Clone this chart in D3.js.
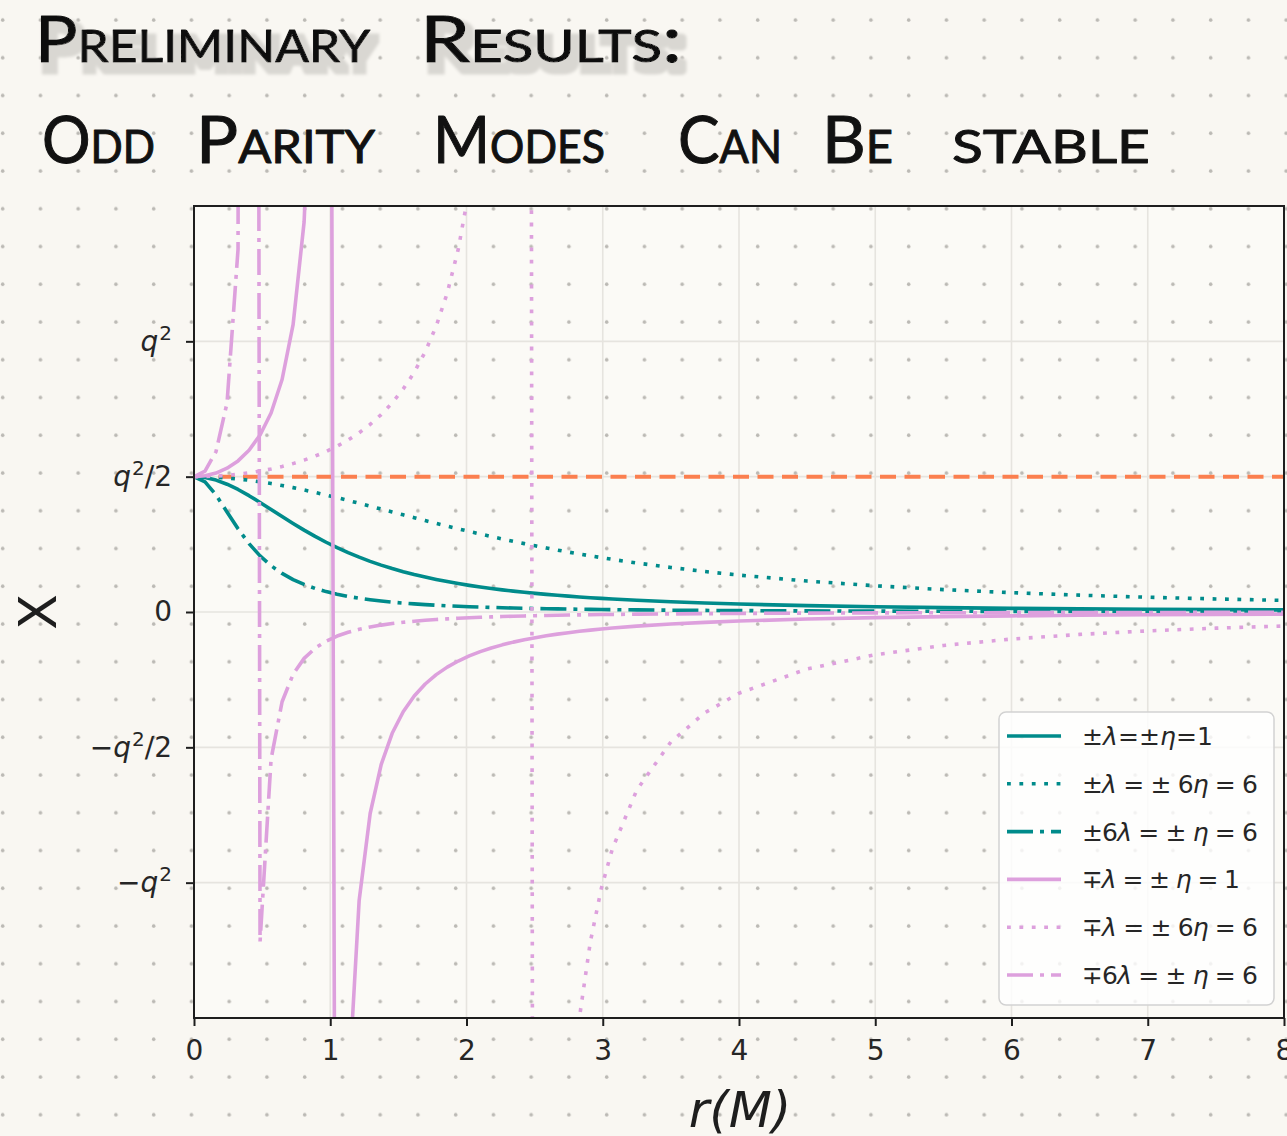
<!DOCTYPE html>
<html><head><meta charset="utf-8">
<script src="https://cdn.jsdelivr.net/npm/d3@7/dist/d3.min.js"></script>
<style>
html,body{margin:0;padding:0;background:#f9f7f2;}
svg{display:block;}
</style></head>
<body>
<svg id="chart" width="1287" height="1136"></svg>
<script>
// ---------------- DATA ----------------
const rValues = [0, 0.0808, 0.1616, 0.2424, 0.3232, 0.4040, 0.4848, 0.5657, 0.6465, 0.7273, 0.8081, 0.8889, 0.9697, 1.0505, 1.1313, 1.2121, 1.2929, 1.3737, 1.4545, 1.5354, 1.6162, 1.6970, 1.7778, 1.8586, 1.9394, 2.0202, 2.1010, 2.1818, 2.2626, 2.3434, 2.4242, 2.5051, 2.5859, 2.6667, 2.7475, 2.8283, 2.9091, 2.9899, 3.0707, 3.25, 3.5, 3.75, 4, 4.5, 5, 5.5, 6, 6.5, 7, 7.5, 8];

const tealSolid = [0.5, 0.4968, 0.4873, 0.4722, 0.4527, 0.4298, 0.4048, 0.3788, 0.3526, 0.3270, 0.3025, 0.2793, 0.2577, 0.2377, 0.2193, 0.2025, 0.1872, 0.1732, 0.1605, 0.1489, 0.1384, 0.1289, 0.1202, 0.1123, 0.1050, 0.0984, 0.0923, 0.0868, 0.0817, 0.0770, 0.0727, 0.0687, 0.0650, 0.0616, 0.0585, 0.0556, 0.0528, 0.0503, 0.0479, 0.0432, 0.0377, 0.0332, 0.0294, 0.0235, 0.0192, 0.0160, 0.0135, 0.0116, 0.0100, 0.0087, 0.0077];
const tealDotted = [0.5, 0.4995, 0.4978, 0.4951, 0.4914, 0.4868, 0.4811, 0.4747, 0.4674, 0.4595, 0.4509, 0.4418, 0.4323, 0.4223, 0.4121, 0.4017, 0.3911, 0.3804, 0.3696, 0.3590, 0.3483, 0.3378, 0.3275, 0.3173, 0.3073, 0.2976, 0.2881, 0.2788, 0.2698, 0.2611, 0.2526, 0.2444, 0.2365, 0.2288, 0.2214, 0.2143, 0.2074, 0.2008, 0.1944, 0.1811, 0.1644, 0.1495, 0.1364, 0.1143, 0.0968, 0.0828, 0.0714, 0.0622, 0.0545, 0.0482, 0.0429];
const tealDashDot = [0.5, 0.4811, 0.4323, 0.3696, 0.3073, 0.2526, 0.2074, 0.1712, 0.1426, 0.1198, 0.1017, 0.0871, 0.0753, 0.0656, 0.0576, 0.0509, 0.0453, 0.0406, 0.0365, 0.0330, 0.0300, 0.0274, 0.0250, 0.0230, 0.0212, 0.0196, 0.0182, 0.0169, 0.0158, 0.0147, 0.0138, 0.0129, 0.0122, 0.0115, 0.0108, 0.0102, 0.0097, 0.0092, 0.0087, 0.0078, 0.0067, 0.0059, 0.0052, 0.0041, 0.0033, 0.0027, 0.0023, 0.0020, 0.0017, 0.0015, 0.0013];
const pinkSolid = [0.5, 0.5033, 0.5134, 0.5312, 0.5583, 0.5976, 0.6537, 0.7353, 0.8590, 1.0614, 1.4409, 2.3823, 8.3766, -4.8281, -1.7865, -1.0656, -0.7444, -0.5636, -0.4481, -0.3684, -0.3102, -0.2660, -0.2314, -0.2037, -0.1811, -0.1623, -0.1464, -0.1330, -0.1214, -0.1113, -0.1025, -0.0948, -0.0879, -0.0818, -0.0764, -0.0714, -0.0670, -0.0630, -0.0593, -0.0523, -0.0444, -0.0383, -0.0333, -0.0260, -0.0208, -0.0171, -0.0143, -0.0121, -0.0104, -0.0090, -0.0079];
const pinkDotted = [0.5, 0.5005, 0.5022, 0.5049, 0.5089, 0.5140, 0.5204, 0.5282, 0.5374, 0.5483, 0.5611, 0.5758, 0.5929, 0.6127, 0.6356, 0.6621, 0.6931, 0.7294, 0.7723, 0.8236, 0.8855, 0.9614, 1.0565, 1.1785, 1.3400, 1.5635, 1.8919, 2.4200, 3.4072, 5.9018, 24.378, -10.898, -4.3691, -2.7000, -1.9372, -1.5006, -1.2181, -1.0206, -0.8748, -0.6575, -0.4800, -0.3721, -0.3000, -0.2105, -0.1579, -0.1237, -0.1000, -0.0828, -0.0698, -0.0597, -0.0517];
const pinkDashDot = [0.5, 0.5204, 0.5929, 0.7723, 1.3400, 24.39, -1.2181, -0.5436, -0.3317, -0.2300, -0.1714, -0.1337, -0.1077, -0.0889, -0.0749, -0.0640, -0.0554, -0.0484, -0.0428, -0.0380, -0.0341, -0.0307, -0.0278, -0.0253, -0.0232, -0.0213, -0.0196, -0.0181, -0.0168, -0.0156, -0.0146, -0.0136, -0.0128, -0.0120, -0.0113, -0.0106, -0.0100, -0.0095, -0.0090, -0.0080, -0.0069, -0.0060, -0.0053, -0.0041, -0.0034, -0.0028, -0.0023, -0.0020, -0.0017, -0.0015, -0.0013];

const referenceLevel = 0.5;            // q^2/2 horizontal dashed line
const seriesLabels = ["±λ=±η=1", "±λ = ± 6η = 6", "±6λ = ± η = 6", "∓λ = ± η = 1", "∓λ = ± 6η = 6", "∓6λ = ± η = 6"];
const xTickValues = [0, 1, 2, 3, 4, 5, 6, 7, 8];
const xTickLabels = ["0", "1", "2", "3", "4", "5", "6", "7", "8"];
const yTickValues = [1, 0.5, 0, -0.5, -1];
const yTickLabels = ["q²", "q²/2", "0", "−q²/2", "−q²"];
const titleLine1 = ["Preliminary", "Results:"];
const titleLine2 = ["Odd", "Parity", "Modes", "Can", "Be", "stable"];
const xLabel = "r(M)";
const yLabel = "X";

// ---------------- STYLE / LAYOUT ----------------
const W = 1287, H = 1136;
const TEAL = "#008b8b", PINK = "#dda0dd", ORANGE = "#fb7f4f";
const LW = 3.6;
const DOT = "3.8,8.6", DASHDOT = "26,7,4,7";
const seriesData = [tealSolid, tealDotted, tealDashDot, pinkSolid, pinkDotted, pinkDashDot];
const seriesStyle = [
  {c: TEAL, d: null}, {c: TEAL, d: DOT}, {c: TEAL, d: DASHDOT},
  {c: PINK, d: null}, {c: PINK, d: DOT}, {c: PINK, d: DASHDOT}
];
const plot = {l: 194, r: 1284, t: 206, b: 1018};

const svg = d3.select("#chart");
const defs = svg.append("defs");

// background paper
svg.append("rect").attr("width", W).attr("height", H).attr("fill", "#f9f7f2");
const pat = defs.append("pattern").attr("id", "dots").attr("patternUnits", "userSpaceOnUse")
  .attr("width", 37.75).attr("height", 37.75);
pat.append("circle").attr("cx", 2.7).attr("cy", 20).attr("r", 1.8).attr("fill", "#bbb9b4");

defs.append("clipPath").attr("id", "clip").append("rect")
  .attr("x", plot.l).attr("y", plot.t).attr("width", plot.r - plot.l).attr("height", plot.b - plot.t);

// shadow (marker highlight) filter for the first title line
const sh = defs.append("filter").attr("id", "shadow").attr("x", "-5%").attr("y", "-40%").attr("width", "115%").attr("height", "190%");
sh.append("feMorphology").attr("in", "SourceAlpha").attr("operator", "dilate").attr("radius", 4).attr("result", "fat");
sh.append("feOffset").attr("in", "fat").attr("dx", 5).attr("dy", 8).attr("result", "off");
sh.append("feGaussianBlur").attr("in", "off").attr("stdDeviation", 1.8).attr("result", "bl");
sh.append("feFlood").attr("flood-color", "#d9d7d2").attr("result", "col");
sh.append("feComposite").attr("in", "col").attr("in2", "bl").attr("operator", "in").attr("result", "shade");
const mg = sh.append("feMerge");
mg.append("feMergeNode").attr("in", "shade");
mg.append("feMergeNode").attr("in", "SourceGraphic");

// plot background
svg.append("rect").attr("x", plot.l).attr("y", plot.t).attr("width", plot.r - plot.l).attr("height", plot.b - plot.t)
  .attr("fill", "#fbfaf6");
svg.append("rect").attr("width", W).attr("height", H).attr("fill", "url(#dots)");

const x = d3.scaleLinear().domain([0, 8]).range([plot.l, plot.r]);
const y = d3.scaleLinear().domain([-1.5, 1.5]).range([plot.b, plot.t]);

// grid
const grid = svg.append("g").attr("clip-path", "url(#clip)");
grid.selectAll("line.gx").data(xTickValues).join("line")
  .attr("x1", d => x(d)).attr("x2", d => x(d)).attr("y1", plot.t).attr("y2", plot.b)
  .attr("stroke", "#e6e4df").attr("stroke-width", 1.6);
grid.selectAll("line.gy").data(yTickValues).join("line")
  .attr("y1", d => y(d)).attr("y2", d => y(d)).attr("x1", plot.l).attr("x2", plot.r)
  .attr("stroke", "#e6e4df").attr("stroke-width", 1.6);

// curves
const curves = svg.append("g").attr("clip-path", "url(#clip)");
curves.append("line").attr("x1", x(0)).attr("x2", x(8)).attr("y1", y(referenceLevel)).attr("y2", y(referenceLevel))
  .attr("stroke", ORANGE).attr("stroke-width", 4).attr("stroke-dasharray", "16,8.5");
const line = d3.line().x((d, i) => x(rValues[i])).y(d => y(d)).curve(d3.curveLinear);
seriesData.forEach((vals, k) => {
  const p = curves.append("path").attr("d", line(vals)).attr("fill", "none")
    .attr("stroke", seriesStyle[k].c).attr("stroke-width", LW).attr("stroke-linejoin", "round");
  if (seriesStyle[k].d) p.attr("stroke-dasharray", seriesStyle[k].d);
});

// axes
const axX = svg.append("g").attr("transform", `translate(0,${plot.b})`)
  .call(d3.axisBottom(x).tickValues(xTickValues).tickFormat((d, i) => xTickLabels[i]).tickSize(8).tickPadding(14));
const axY = svg.append("g").attr("transform", `translate(${plot.l},0)`)
  .call(d3.axisLeft(y).tickValues(yTickValues).tickFormat((d, i) => yTickLabels[i]).tickSize(8).tickPadding(14));
[axX, axY].forEach(a => {
  a.select(".domain").remove();
  a.selectAll(".tick line").attr("stroke", "#1e1e1e").attr("stroke-width", 2);
  a.selectAll(".tick text").attr("font-family", "DejaVu Sans").attr("font-size", 28).attr("fill", "#262626");
});
// math-like tick labels: italic q, raised superscript 2
axY.selectAll(".tick text").each(function () {
  const t = d3.select(this); const s = t.text(); t.text("");
  let raised = false;
  for (const ch of s) {
    if (ch === "²") {
      t.append("tspan").attr("font-size", 20).attr("dy", -11).attr("dx", 1).text("2");
      raised = true;
      continue;
    }
    const ts = t.append("tspan").text(ch);
    if (raised) { ts.attr("dy", 11); raised = false; }
    if (ch === "q") ts.attr("font-style", "italic");
  }
  if (raised) t.append("tspan").attr("dy", 11).text("");
});
svg.append("rect").attr("x", plot.l).attr("y", plot.t).attr("width", plot.r - plot.l).attr("height", plot.b - plot.t)
  .attr("fill", "none").attr("stroke", "#1e1e1e").attr("stroke-width", 2);

// legend
const lg = svg.append("g");
lg.append("rect").attr("x", 999).attr("y", 712).attr("width", 275).attr("height", 293).attr("rx", 7)
  .attr("fill", "#ffffff").attr("fill-opacity", 0.8).attr("stroke", "#d2d2d2").attr("stroke-width", 1.5);
const legendWidths = [131, 176, 176, 158, 176, 176];
seriesLabels.forEach((lab, k) => {
  const yy = 736 + k * 47.8;
  const l = lg.append("line").attr("x1", 1007).attr("x2", 1061).attr("y1", yy).attr("y2", yy)
    .attr("stroke", seriesStyle[k].c).attr("stroke-width", LW);
  if (seriesStyle[k].d) l.attr("stroke-dasharray", seriesStyle[k].d);
  const t = lg.append("text").attr("x", 1082).attr("y", yy + 9).attr("font-family", "DejaVu Sans")
    .attr("font-size", 25).attr("fill", "#262626")
    .attr("textLength", legendWidths[k]).attr("lengthAdjust", "spacing");
  for (const ch of lab) {
    const ts = t.append("tspan").text(ch);
    if (ch === "λ" || ch === "η") ts.attr("font-style", "italic");
  }
});

// axis labels
svg.append("text").attr("x", 740).attr("y", 1127).attr("text-anchor", "middle")
  .attr("font-family", "DejaVu Sans").attr("font-style", "italic").attr("font-size", 50).attr("fill", "#1e1e1e").text(xLabel);
svg.append("text").attr("transform", "translate(56,612) rotate(-90)").attr("text-anchor", "middle")
  .attr("font-family", "DejaVu Sans").attr("font-size", 52).attr("fill", "#1e1e1e").text(yLabel);

// title
const line1Pos = [[35, 335], [420, 262]];
const line2Pos = [[42, 113], [196, 179], [433, 172], [678, 104], [822, 71], [952, 198]];
const tFont = "Lato, 'Open Sans', sans-serif";
const g1 = svg.append("g").attr("filter", "url(#shadow)");
titleLine1.forEach((w, i) => {
  g1.append("text").attr("x", line1Pos[i][0]).attr("y", 62).attr("font-family", tFont)
    .attr("font-weight", 400).attr("font-size", 64).style("font-variant", "small-caps")
    .attr("textLength", line1Pos[i][1]).attr("lengthAdjust", "spacingAndGlyphs")
    .attr("fill", "#111").attr("stroke", "#111").attr("stroke-width", 1).attr("stroke-linejoin", "round").text(w);
});
titleLine2.forEach((w, i) => {
  svg.append("text").attr("x", line2Pos[i][0]).attr("y", 163).attr("font-family", tFont)
    .attr("font-weight", 400).attr("font-size", 66).style("font-variant", "small-caps")
    .attr("textLength", line2Pos[i][1]).attr("lengthAdjust", "spacingAndGlyphs")
    .attr("fill", "#111").attr("stroke", "#111").attr("stroke-width", 1).attr("stroke-linejoin", "round").text(w);
});
</script>
</body></html>
